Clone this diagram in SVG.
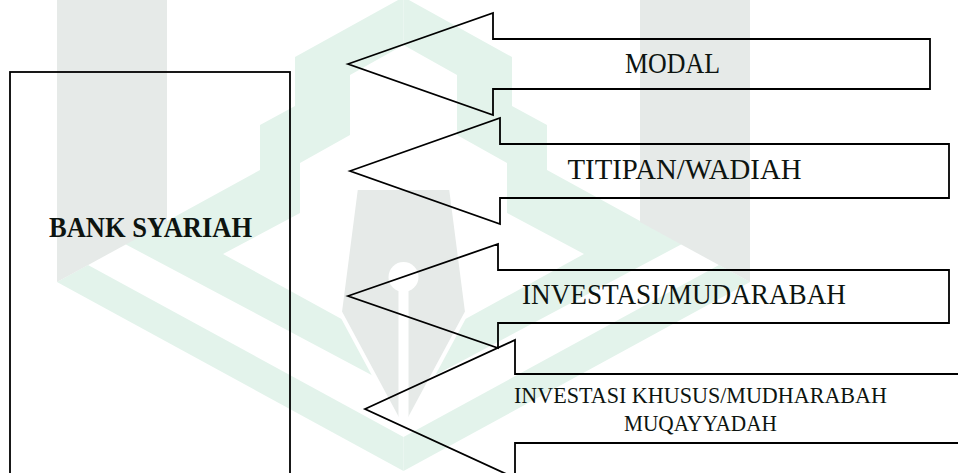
<svg xmlns="http://www.w3.org/2000/svg" width="958" height="473" viewBox="0 0 958 473">
  <defs>
    <style>
      .wm-gray { fill: #e6eae8; }
      .wm-green { fill: #e3f3eb; }
      .shape { fill: none; stroke: #000; stroke-width: 1.8; stroke-linejoin: miter; }
      .lbl { font-family: "Liberation Serif", "Times New Roman", serif; fill: #0d1410; }
      .big { font-size: 29px; }
      .small { font-size: 23px; }
      .bold { font-weight: bold; }
    </style>
    <g id="wm-half">
      <polygon class="wm-green" points="57,282 88,265 403.5,437 403.5,471"/>
      <polygon class="wm-green" points="403.5,-3 295,57 295,106 260,125 260,170 125,244 403.5,392 403.5,353 223,254 300,213 300,163 350,135 350,75 403.5,45"/>
      <polygon class="wm-gray" points="57,0 167,0 167,222 57,282"/>
    </g>
  </defs>
  <rect width="958" height="473" fill="#ffffff"/>

  <g id="watermark">
    <use href="#wm-half"/>
    <use href="#wm-half" transform="translate(807,0) scale(-1,1)"/>
    <polygon class="wm-gray" points="356,188 451,188 467,312 403.5,430 340,312" stroke="#ffffff" stroke-width="4"/>
    <circle cx="403.5" cy="277" r="15" fill="#ffffff"/>
    <rect x="398.5" y="277" width="10" height="152" fill="#ffffff"/>
  </g>

  <g id="bank-syariah">
    <rect class="shape" x="10" y="72" width="280" height="420"/>
    <text class="lbl big bold" x="49" y="237" textLength="203" lengthAdjust="spacingAndGlyphs">BANK SYARIAH</text>
  </g>

  <g id="connectors">
    <g id="modal">
      <path class="shape" d="M348,64 L493,13 L493,39 L930,39 L930,89 L493,89 L493,115 Z"/>
      <text class="lbl big" x="625" y="72.5" textLength="95" lengthAdjust="spacingAndGlyphs">MODAL</text>
    </g>
    <g id="titipan-wadiah">
      <path class="shape" d="M350,171 L500,118 L500,144 L949,144 L949,198 L500,198 L500,224 Z"/>
      <text class="lbl big" x="567.5" y="178.5" textLength="234" lengthAdjust="spacingAndGlyphs">TITIPAN/WADIAH</text>
    </g>
    <g id="investasi-mudarabah">
      <path class="shape" d="M348,296 L498,244 L498,270 L949,270 L949,323 L498,323 L498,348 Z"/>
      <text class="lbl big" x="522" y="304" textLength="324" lengthAdjust="spacingAndGlyphs">INVESTASI/MUDARABAH</text>
    </g>
    <g id="investasi-khusus">
      <path class="shape" d="M365,409 L515,340 L515,374 L975,374 L975,443 L515,443 L515,478 Z"/>
      <text class="lbl small" x="514" y="402.5" textLength="373" lengthAdjust="spacingAndGlyphs">INVESTASI KHUSUS/MUDHARABAH</text>
      <text class="lbl small" x="624" y="431" textLength="153" lengthAdjust="spacingAndGlyphs">MUQAYYADAH</text>
    </g>
  </g>
</svg>
